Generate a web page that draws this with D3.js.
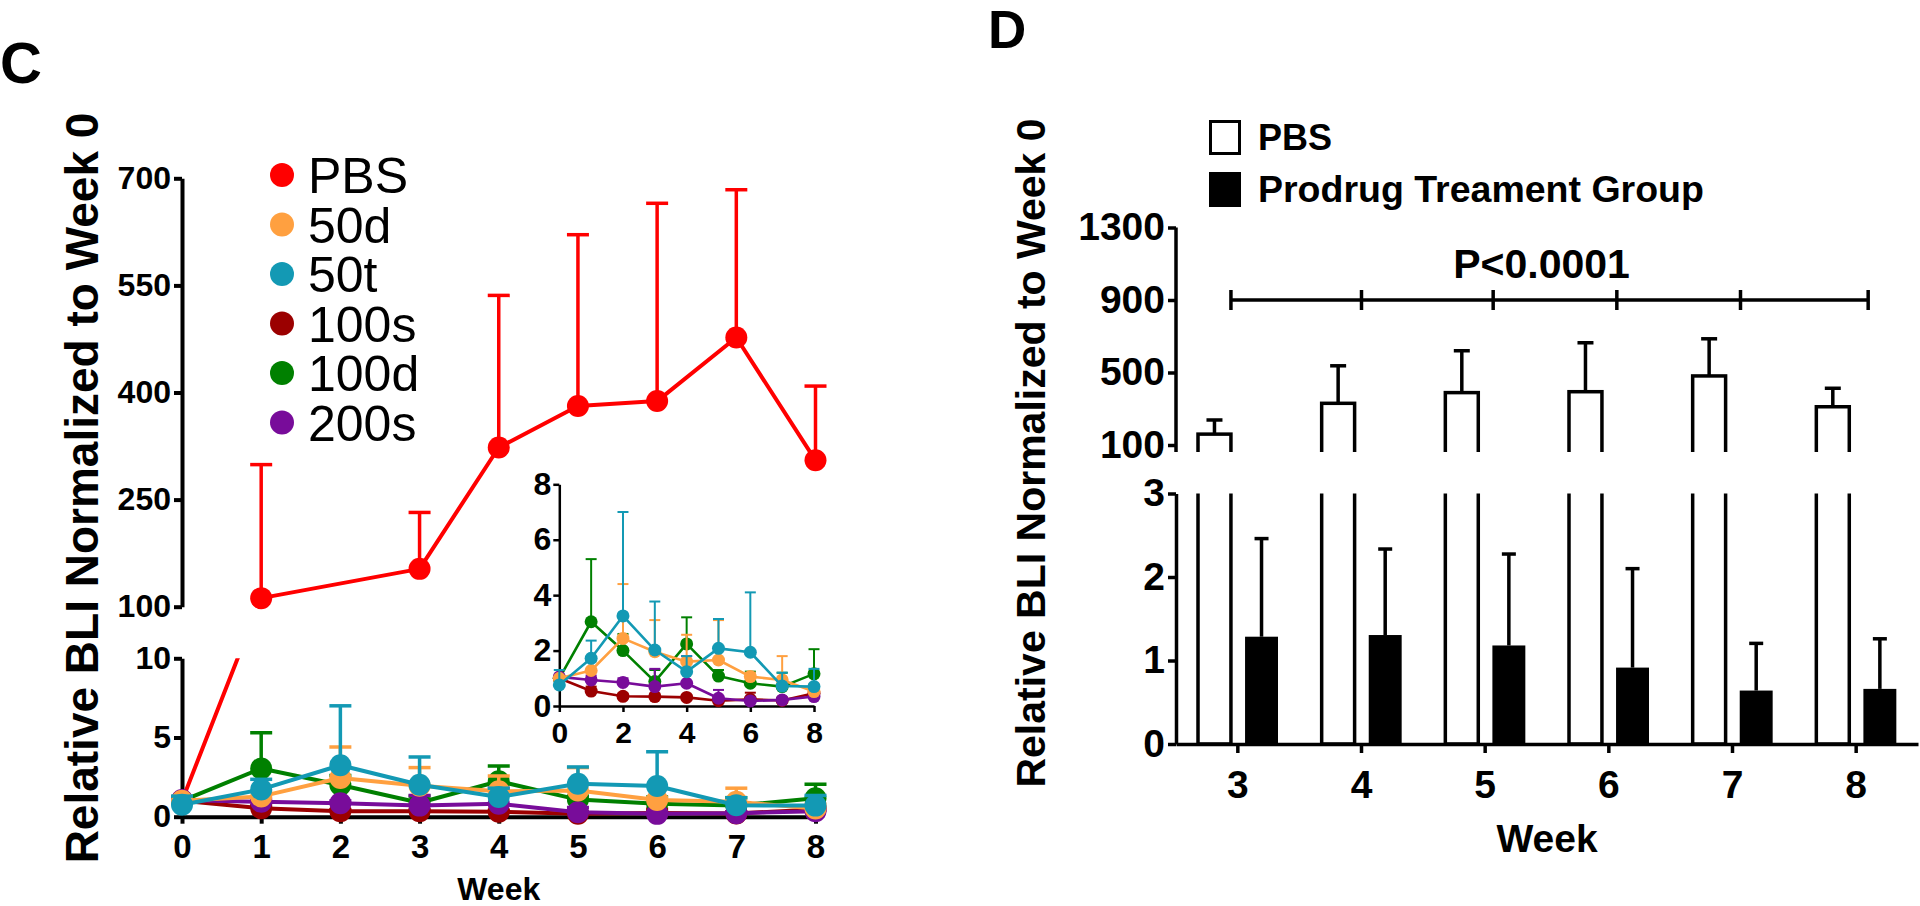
<!DOCTYPE html>
<html><head><meta charset="utf-8">
<script src="https://cdn.jsdelivr.net/npm/d3@7"></script>
<style>
html,body{margin:0;padding:0;background:#fff;overflow:hidden;}
svg text{font-family:"Liberation Sans",Arial,Helvetica,sans-serif;fill:#000;}
</style></head><body>
<svg id="chart" width="1920" height="906"></svg>
<script>
// ---------------- DATA: panel C ----------------
const weeksC = [0,1,2,3,4,5,6,7,8];
const groupsC = ["PBS","50d","50t","100s","100d","200s"];
const meanPBS  = [1, 112, null, 153, 323, 381, 388, 477, 305];
const upperPBS = [null, 299, null, 232, 536, 621, 665, 684, 409];
const mean50d  = [1.0, 1.28, 2.44, 1.96, 1.60, 1.66, 1.06, 0.94, 0.52];
const upper50d = [1.0, 1.60, 4.40, 3.10, 2.57, 3.10, 1.20, 1.80, 0.80];
const mean50t  = [0.76, 1.72, 3.25, 2.02, 1.24, 2.08, 1.94, 0.72, 0.70];
const upper50t = [1.30, 2.36, 7.00, 3.77, 1.80, 3.14, 4.10, 1.20, 1.34];
const mean100s  = [1.0, 0.54, 0.35, 0.34, 0.31, 0.19, 0.24, 0.20, 0.46];
const upper100s = [1.0, 0.70, 0.45, 0.45, 0.40, 0.30, 0.48, 0.30, 0.60];
const mean100d  = [1.0, 3.04, 2.00, 0.88, 2.24, 1.08, 0.82, 0.70, 1.16];
const upper100d = [1.0, 5.30, 2.60, 1.30, 3.20, 1.30, 1.24, 1.20, 2.05];
const mean200s  = [1.05, 0.94, 0.85, 0.70, 0.82, 0.28, 0.18, 0.22, 0.34];
const upper200s = [1.05, 1.10, 1.00, 1.34, 1.80, 0.58, 0.30, 0.30, 0.45];
const ticksTopC = [100, 250, 400, 550, 700];
const ticksBotC = [0, 5, 10];
const ticksInsetY = [0, 2, 4, 6, 8];
const ticksInsetX = [0, 2, 4, 6, 8];

// ---------------- DATA: panel D ----------------
const weeksD = [3,4,5,6,7,8];
const groupsD = ["PBS","Prodrug Treament Group"];
const meanD_PBS   = [160, 330, 389, 394, 481, 311];
const upperD_PBS  = [238, 537, 620, 664, 686, 413];
const meanD_Drug  = [1.285, 1.305, 1.18, 0.915, 0.64, 0.66];
const upperD_Drug = [2.46, 2.335, 2.275, 2.10, 1.205, 1.26];
const ticksTopD = [100, 500, 900, 1300];
const ticksBotD = [0, 1, 2, 3];
const pText = "P<0.0001";

// ---------------- STYLES ----------------
const colorsC = {"PBS":"#ff0000","50d":"#ffa040","50t":"#1399b4","100s":"#9b0000","100d":"#008000","200s":"#780c9a"};
const drawOrder = ["PBS","100s","100d","200s","50d","50t"];

const seriesC = {
  "PBS":  {mean: meanPBS,  upper: upperPBS},
  "50d":  {mean: mean50d,  upper: upper50d},
  "50t":  {mean: mean50t,  upper: upper50t},
  "100s": {mean: mean100s, upper: upper100s},
  "100d": {mean: mean100d, upper: upper100d},
  "200s": {mean: mean200s, upper: upper200s}
};

const svg = d3.select("#chart");
const defs = svg.append("defs");
const fmtInt = d3.format("d");

function styleAxis(g, sw, fs){
  g.selectAll("path.domain").attr("stroke","#000").attr("stroke-width",sw);
  g.selectAll(".tick line").attr("stroke","#000").attr("stroke-width",sw);
  g.selectAll(".tick text").attr("font-size",fs).attr("font-weight","bold")
   .attr("fill","#000").style("font-family",'"Liberation Sans",Arial,sans-serif');
}

// =============== PANEL C ===============
const C = svg.append("g");
C.append("text").attr("x",0).attr("y",83).attr("font-size",58).attr("font-weight","bold").text("C");

const xC = d3.scaleLinear().domain([0,8]).range([182,815.5]);
const yTopC = d3.scaleLinear().domain([100,700]).range([606.7,178.3]);
const yBotC = d3.scaleLinear().domain([0,10]).range([816.7,658.3]);
const yC = v => v <= 10 ? yBotC(v) : yTopC(v);

defs.append("clipPath").attr("id","clipCTop").append("rect").attr("x",150).attr("y",0).attr("width",720).attr("height",yTopC(100)+1);
defs.append("clipPath").attr("id","clipCBot").append("rect").attr("x",150).attr("y",yBotC(10)).attr("width",720).attr("height",300);

// axes
const gTopC = C.append("g").attr("transform",`translate(${xC(0)},0)`)
  .call(d3.axisLeft(yTopC).tickValues(ticksTopC).tickFormat(fmtInt).tickSize(8).tickSizeOuter(0).tickPadding(3));
styleAxis(gTopC, 4, 32);
const gBotC = C.append("g").attr("transform",`translate(${xC(0)},0)`)
  .call(d3.axisLeft(yBotC).tickValues(ticksBotC).tickFormat(fmtInt).tickSize(8).tickSizeOuter(0).tickPadding(3));
styleAxis(gBotC, 4, 32);
const gXC = C.append("g").attr("transform",`translate(0,${yBotC(0)})`)
  .call(d3.axisBottom(xC).tickValues(weeksC).tickFormat(fmtInt).tickSize(7).tickSizeOuter(0).tickPadding(11));
styleAxis(gXC, 4, 33);

C.append("text").attr("x",(xC(0)+xC(8))/2).attr("y",900).attr("text-anchor","middle")
  .attr("font-size",32).attr("font-weight","bold").text("Week");
C.append("text").attr("transform","translate(98,488) rotate(-90)").attr("text-anchor","middle")
  .attr("font-size",46).attr("font-weight","bold").text("Relative BLI Normalized to Week 0");

// series (main)
const lineC = d3.line().defined(d => d.m != null).x(d => xC(d.w)).y(d => yC(d.m));
drawOrder.forEach(name => {
  const s = seriesC[name];
  const pts = weeksC.map((w,i) => ({w, m: s.mean[i], u: s.upper[i]})).filter(d => d.m != null);
  const col = colorsC[name];
  const g = C.append("g");
  pts.filter(d => d.u != null && d.u > d.m).forEach(d => {
    const x = xC(d.w), y0 = yC(d.m), y1 = yC(d.u);
    g.append("line").attr("x1",x).attr("x2",x).attr("y1",y0).attr("y2",y1).attr("stroke",col).attr("stroke-width",3.5);
    g.append("line").attr("x1",x-11).attr("x2",x+11).attr("y1",y1).attr("y2",y1).attr("stroke",col).attr("stroke-width",3.5);
  });
  ["clipCTop","clipCBot"].forEach(cid => {
    g.append("path").datum(pts).attr("d",lineC).attr("fill","none").attr("stroke",col)
      .attr("stroke-width",4).attr("stroke-linejoin","round").attr("clip-path",`url(#${cid})`);
  });
  g.selectAll("circle").data(pts).join("circle")
    .attr("cx",d => xC(d.w)).attr("cy",d => yC(d.m)).attr("r",11).attr("fill",col);
});

// legend
groupsC.forEach((name,i) => {
  const cy = 175 + i*49.5;
  C.append("circle").attr("cx",282).attr("cy",cy).attr("r",12).attr("fill",colorsC[name]);
  C.append("text").attr("x",308).attr("y",cy+18).attr("font-size",50).text(name);
});

// inset
const xIn = d3.scaleLinear().domain([0,8]).range([559.3,814]);
const yIn = d3.scaleLinear().domain([0,8]).range([706,484.3]);
const gInY = C.append("g").attr("transform",`translate(${xIn(0)},0)`)
  .call(d3.axisLeft(yIn).tickValues(ticksInsetY).tickFormat(fmtInt).tickSize(6).tickSizeOuter(0).tickPadding(2));
styleAxis(gInY, 2.5, 32);
const gInX = C.append("g").attr("transform",`translate(0,${yIn(0)})`)
  .call(d3.axisBottom(xIn).tickValues(ticksInsetX).tickFormat(fmtInt).tickSize(6).tickSizeOuter(0).tickPadding(10));
styleAxis(gInX, 2.5, 30);

const lineIn = d3.line().x(d => xIn(d.w)).y(d => yIn(d.m));
drawOrder.filter(n => n !== "PBS").forEach(name => {
  const s = seriesC[name];
  const pts = weeksC.map((w,i) => ({w, m: s.mean[i], u: s.upper[i]}));
  const col = colorsC[name];
  const g = C.append("g");
  pts.filter(d => d.u > d.m).forEach(d => {
    const x = xIn(d.w), y0 = yIn(d.m), y1 = yIn(d.u);
    g.append("line").attr("x1",x).attr("x2",x).attr("y1",y0).attr("y2",y1).attr("stroke",col).attr("stroke-width",2);
    g.append("line").attr("x1",x-5.5).attr("x2",x+5.5).attr("y1",y1).attr("y2",y1).attr("stroke",col).attr("stroke-width",2);
  });
  g.append("path").datum(pts).attr("d",lineIn).attr("fill","none").attr("stroke",col)
    .attr("stroke-width",2.6).attr("stroke-linejoin","round");
  g.selectAll("circle").data(pts).join("circle")
    .attr("cx",d => xIn(d.w)).attr("cy",d => yIn(d.m)).attr("r",6.5).attr("fill",col);
});

// =============== PANEL D ===============
const D = svg.append("g");
D.append("text").attr("x",988).attr("y",48).attr("font-size",53).attr("font-weight","bold").text("D");

const xD = d3.scaleBand().domain(weeksD).range([1176,1918]);
const subD = d3.scaleBand().domain(["PBS","Drug"]).range([22,102]).paddingInner(0.3);
const yTopD = d3.scaleLinear().domain([100,1300]).range([445,227.5]);
const yBotD = d3.scaleLinear().domain([0,3]).range([744,493.5]);
const segTopBottom = 452;

defs.append("clipPath").attr("id","clipDTop").append("rect").attr("x",1100).attr("y",0).attr("width",820).attr("height",segTopBottom);
defs.append("clipPath").attr("id","clipDBot").append("rect").attr("x",1100).attr("y",yBotD(3)).attr("width",820).attr("height",400);

// axes
const gTopD = D.append("g").attr("transform",`translate(${xD.range()[0]},0)`)
  .call(d3.axisLeft(yTopD).tickValues(ticksTopD).tickFormat(fmtInt).tickSize(8).tickSizeOuter(0).tickPadding(3));
gTopD.select("path.domain").remove();
D.append("line").attr("x1",xD.range()[0]).attr("x2",xD.range()[0]).attr("y1",yTopD(1300)).attr("y2",segTopBottom)
  .attr("stroke","#000").attr("stroke-width",3.5);
styleAxis(gTopD, 3.5, 39);
const gBotD = D.append("g").attr("transform",`translate(${xD.range()[0]},0)`)
  .call(d3.axisLeft(yBotD).tickValues(ticksBotD).tickFormat(fmtInt).tickSize(8).tickSizeOuter(0).tickPadding(3));
styleAxis(gBotD, 3.5, 39);
const gXD = D.append("g").attr("transform",`translate(0,${yBotD(0)})`)
  .call(d3.axisBottom(xD).tickFormat(fmtInt).tickSize(9).tickSizeOuter(0).tickPadding(17));
styleAxis(gXD, 3.5, 39);

D.append("text").attr("x",(xD.range()[0]+xD.range()[1])/2).attr("y",852).attr("text-anchor","middle")
  .attr("font-size",39).attr("font-weight","bold").text("Week");
D.append("text").attr("transform","translate(1045,453) rotate(-90)").attr("text-anchor","middle")
  .attr("font-size",41).attr("font-weight","bold").text("Relative BLI Normalized to Week 0");

// PBS open bars (broken axis)
weeksD.forEach((w,i) => {
  const x = xD(w) + subD("PBS"), bw = subD.bandwidth();
  const yv = yTopD(meanD_PBS[i]);
  ["clipDTop","clipDBot"].forEach(cid => {
    D.append("rect").attr("x",x).attr("y",yv).attr("width",bw).attr("height",yBotD(0)-yv)
      .attr("fill","none").attr("stroke","#000").attr("stroke-width",3.5).attr("clip-path",`url(#${cid})`);
  });
  const cx = x + bw/2, yu = yTopD(upperD_PBS[i]);
  D.append("line").attr("x1",cx).attr("x2",cx).attr("y1",yv).attr("y2",yu).attr("stroke","#000").attr("stroke-width",3.5);
  D.append("line").attr("x1",cx-8).attr("x2",cx+8).attr("y1",yu).attr("y2",yu).attr("stroke","#000").attr("stroke-width",3.5);
});
// Treatment filled bars
weeksD.forEach((w,i) => {
  const x = xD(w) + subD("Drug"), bw = subD.bandwidth();
  const yv = yBotD(meanD_Drug[i]);
  D.append("rect").attr("x",x).attr("y",yv).attr("width",bw).attr("height",yBotD(0)-yv).attr("fill","#000");
  const cx = x + bw/2, yu = yBotD(upperD_Drug[i]);
  D.append("line").attr("x1",cx).attr("x2",cx).attr("y1",yv).attr("y2",yu).attr("stroke","#000").attr("stroke-width",3.5);
  D.append("line").attr("x1",cx-7).attr("x2",cx+7).attr("y1",yu).attr("y2",yu).attr("stroke","#000").attr("stroke-width",3.5);
});

// significance bracket
const brY = yTopD(900);
const brL = xD(weeksD[0]) + subD("PBS") + subD.bandwidth();
const brR = xD(weeksD[weeksD.length-1]) + xD.bandwidth()/2 + 12;
D.append("line").attr("x1",brL).attr("x2",brR).attr("y1",brY).attr("y2",brY).attr("stroke","#000").attr("stroke-width",3.5);
const brTicks = [brL].concat(weeksD.slice(1,-1).map(w => xD(w)+xD.bandwidth()/2 + (w>4?8:0))).concat([brR]);
brTicks.forEach(x => D.append("line").attr("x1",x).attr("x2",x).attr("y1",brY-10).attr("y2",brY+10).attr("stroke","#000").attr("stroke-width",3.5));
D.append("text").attr("x",(brL+brR)/2 - 8).attr("y",278).attr("text-anchor","middle")
  .attr("font-size",41).attr("font-weight","bold").text(pText);

// legend D
D.append("rect").attr("x",1210.5).attr("y",121.5).attr("width",29).attr("height",32)
  .attr("fill","#fff").attr("stroke","#000").attr("stroke-width",3);
D.append("rect").attr("x",1209).attr("y",172).attr("width",32).attr("height",35).attr("fill","#000");
D.append("text").attr("x",1258).attr("y",150).attr("font-size",36).attr("font-weight","bold").text(groupsD[0]);
D.append("text").attr("x",1258).attr("y",202).attr("font-size",37.5).attr("font-weight","bold").text(groupsD[1]);
</script>
</body></html>
